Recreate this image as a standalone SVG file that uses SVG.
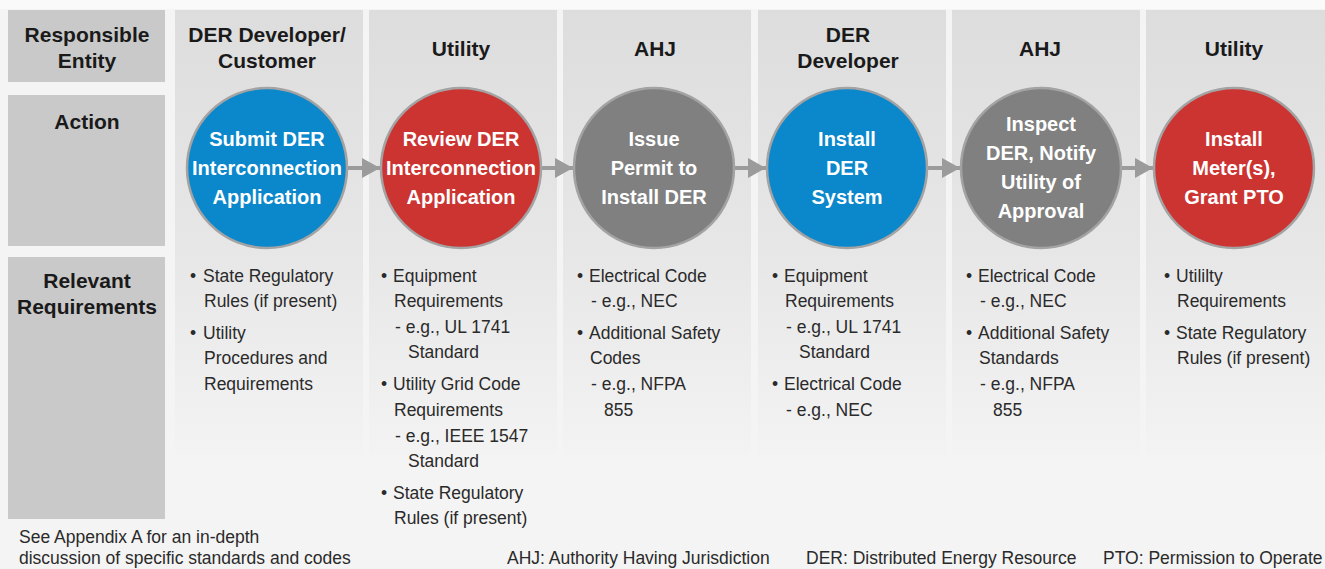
<svg xmlns="http://www.w3.org/2000/svg" width="1325" height="569" viewBox="0 0 1325 569">
<defs>
<linearGradient id="pg" x1="0" y1="0" x2="0" y2="1">
<stop offset="0" stop-color="#dddddd"/>
<stop offset="0.55" stop-color="#e7e7e7"/>
<stop offset="1" stop-color="#f3f3f3"/>
</linearGradient>
<marker id="ah" markerUnits="userSpaceOnUse" markerWidth="18" markerHeight="20" refX="18" refY="10" orient="auto">
<path d="M0,0 L18,10 L0,20 Z" fill="#9b9b9b"/>
</marker>
<style>
.lbl{fill:#c9c9c9}
.pan{fill:url(#pg)}
.h{font-family:"Liberation Sans",Arial,sans-serif;font-weight:bold;font-size:21px;fill:#1a1a1a;text-anchor:middle}
.c{font-family:"Liberation Sans",Arial,sans-serif;font-weight:bold;font-size:20px;fill:#ffffff;text-anchor:middle}
.t{font-family:"Liberation Sans",Arial,sans-serif;font-size:17.5px;fill:#2a2a2a}
.ci{stroke:#a3a3a3;stroke-width:2.5}
.blue{fill:#0b87cb}
.red{fill:#cc3431}
.gray{fill:#808080}
.ar{stroke:#9b9b9b;stroke-width:4;fill:none}
</style>
</defs>
<rect x="0" y="0" width="1325" height="569" fill="#f4f4f4"/>
<rect x="0" y="0" width="1325" height="9" fill="#fafafa"/>

<g id="labels">
<rect class="lbl" x="8" y="10" width="157" height="72"/>
<rect class="lbl" x="8" y="95" width="157" height="151"/>
<rect class="lbl" x="8" y="257" width="157" height="262"/>
<text class="h" x="87" y="41.5">Responsible</text>
<text class="h" x="87" y="67.5">Entity</text>
<text class="h" x="87" y="128.5">Action</text>
<text class="h" x="87" y="287.5">Relevant</text>
<text class="h" x="87" y="313.5">Requirements</text>
</g>

<g id="panels">
<rect class="pan" x="175" y="10" width="188" height="445"/>
<rect class="pan" x="369" y="10" width="188" height="445"/>
<rect class="pan" x="563" y="10" width="188" height="445"/>
<rect class="pan" x="758" y="10" width="188" height="445"/>
<rect class="pan" x="952" y="10" width="188" height="445"/>
<rect class="pan" x="1146" y="10" width="188" height="445"/>
</g>

<g id="connectors">
<line class="ar" x1="348" y1="168" x2="380" y2="168" marker-end="url(#ah)"/>
<line class="ar" x1="542" y1="168" x2="573" y2="168" marker-end="url(#ah)"/>
<line class="ar" x1="735" y1="168" x2="766" y2="168" marker-end="url(#ah)"/>
<line class="ar" x1="928" y1="168" x2="960" y2="168" marker-end="url(#ah)"/>
<line class="ar" x1="1122" y1="168" x2="1153" y2="168" marker-end="url(#ah)"/>
</g>

<g id="step1">
<text class="h" x="267" y="41.5">DER Developer/</text>
<text class="h" x="267" y="67.5">Customer</text>
<circle class="ci blue" cx="267" cy="168" r="80"/>
<text class="c" x="267" y="146">Submit DER</text>
<text class="c" x="267" y="175">Interconnection</text>
<text class="c" x="267" y="204">Application</text>
<text class="t" x="190" y="282">•</text>
<text class="t" x="203" y="282">State Regulatory</text>
<text class="t" x="204" y="307">Rules (if present)</text>
<text class="t" x="190" y="339">•</text>
<text class="t" x="203" y="339">Utility</text>
<text class="t" x="204" y="364">Procedures and</text>
<text class="t" x="204" y="390">Requirements</text>
</g>

<g id="step2">
<text class="h" x="461" y="55.5">Utility</text>
<circle class="ci red" cx="461" cy="168" r="80"/>
<text class="c" x="461" y="146">Review DER</text>
<text class="c" x="461" y="175">Interconnection</text>
<text class="c" x="461" y="204">Application</text>
<text class="t" x="381" y="282">•</text>
<text class="t" x="393" y="282">Equipment</text>
<text class="t" x="394" y="307">Requirements</text>
<text class="t" x="395" y="333">- e.g., UL 1741</text>
<text class="t" x="408" y="358">Standard</text>
<text class="t" x="381" y="390">•</text>
<text class="t" x="393" y="390">Utility Grid Code</text>
<text class="t" x="394" y="416">Requirements</text>
<text class="t" x="395" y="442">- e.g., IEEE 1547</text>
<text class="t" x="408" y="467">Standard</text>
<text class="t" x="381" y="499">•</text>
<text class="t" x="393" y="499">State Regulatory</text>
<text class="t" x="394" y="524">Rules (if present)</text>
</g>

<g id="step3">
<text class="h" x="655" y="55.5">AHJ</text>
<circle class="ci gray" cx="654" cy="168" r="80"/>
<text class="c" x="654" y="146">Issue</text>
<text class="c" x="654" y="175">Permit to</text>
<text class="c" x="654" y="204">Install DER</text>
<text class="t" x="577" y="282">•</text>
<text class="t" x="589" y="282">Electrical Code</text>
<text class="t" x="591" y="307">- e.g., NEC</text>
<text class="t" x="577" y="339">•</text>
<text class="t" x="589" y="339">Additional Safety</text>
<text class="t" x="590" y="364">Codes</text>
<text class="t" x="591" y="390">- e.g., NFPA</text>
<text class="t" x="604" y="416">855</text>
</g>

<g id="step4">
<text class="h" x="848" y="41.5">DER</text>
<text class="h" x="848" y="67.5">Developer</text>
<circle class="ci blue" cx="847" cy="168" r="80"/>
<text class="c" x="847" y="146">Install</text>
<text class="c" x="847" y="175">DER</text>
<text class="c" x="847" y="204">System</text>
<text class="t" x="772" y="282">•</text>
<text class="t" x="784" y="282">Equipment</text>
<text class="t" x="785" y="307">Requirements</text>
<text class="t" x="786" y="333">- e.g., UL 1741</text>
<text class="t" x="799" y="358">Standard</text>
<text class="t" x="772" y="390">•</text>
<text class="t" x="784" y="390">Electrical Code</text>
<text class="t" x="786" y="416">- e.g., NEC</text>
</g>

<g id="step5">
<text class="h" x="1040" y="55.5">AHJ</text>
<circle class="ci gray" cx="1041" cy="168" r="80"/>
<text class="c" x="1041" y="131">Inspect</text>
<text class="c" x="1041" y="160">DER, Notify</text>
<text class="c" x="1041" y="189">Utility of</text>
<text class="c" x="1041" y="218">Approval</text>
<text class="t" x="966" y="282">•</text>
<text class="t" x="978" y="282">Electrical Code</text>
<text class="t" x="980" y="307">- e.g., NEC</text>
<text class="t" x="966" y="339">•</text>
<text class="t" x="978" y="339">Additional Safety</text>
<text class="t" x="979" y="364">Standards</text>
<text class="t" x="980" y="390">- e.g., NFPA</text>
<text class="t" x="993" y="416">855</text>
</g>

<g id="step6">
<text class="h" x="1234" y="55.5">Utility</text>
<circle class="ci red" cx="1234" cy="168" r="80"/>
<text class="c" x="1234" y="146">Install</text>
<text class="c" x="1234" y="175">Meter(s),</text>
<text class="c" x="1234" y="204">Grant PTO</text>
<text class="t" x="1164" y="282">•</text>
<text class="t" x="1176" y="282">Utililty</text>
<text class="t" x="1177" y="307">Requirements</text>
<text class="t" x="1164" y="339">•</text>
<text class="t" x="1176" y="339">State Regulatory</text>
<text class="t" x="1177" y="364">Rules (if present)</text>
</g>

<g id="notes">
<text class="t" x="19" y="543">See Appendix A for an in-depth</text>
<text class="t" x="19" y="564">discussion of specific standards and codes</text>
<text class="t" x="507" y="564">AHJ: Authority Having Jurisdiction</text>
<text class="t" x="806" y="564">DER: Distributed Energy Resource</text>
<text class="t" x="1103" y="564">PTO: Permission to Operate</text>
</g>
</svg>
